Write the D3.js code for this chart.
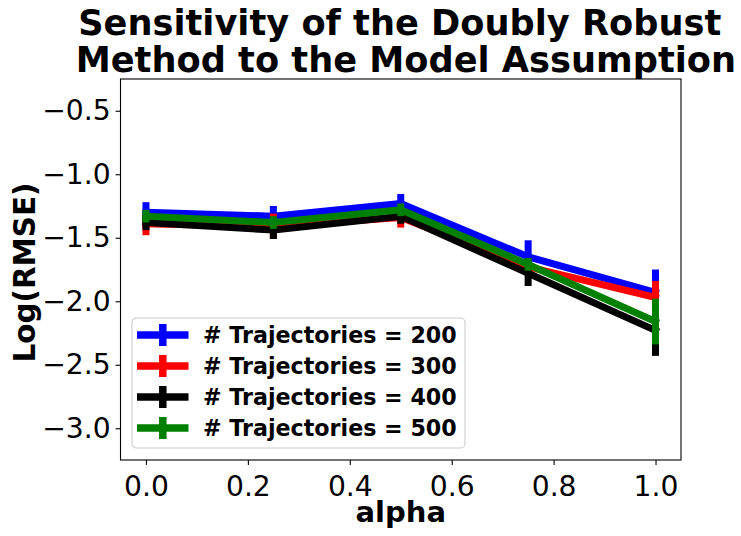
<!DOCTYPE html>
<html>
<head>
<meta charset="utf-8">
<script src="https://cdn.jsdelivr.net/npm/d3@7"></script>
<style>
    body { margin: 0; background: #fff; }
    svg { display: block; }
</style>
</head>
<body>
<div id="chart"></div>
<script>

// values
const alphas = [0, 0.25, 0.5, 0.75, 1.0];

const rmse200 = [-1.30, -1.33, -1.23, -1.65, -1.93];
const err200  = [0.08, 0.08, 0.075, 0.13, 0.18];

const rmse300 = [-1.39, -1.41, -1.34, -1.73, -1.97];
const err300  = [0.09, 0.10, 0.08, 0.05, 0.13];

const rmse400 = [-1.38, -1.44, -1.33, -1.78, -2.23];
const err400  = [0.06, 0.07, 0.06, 0.10, 0.20];

const rmse500 = [-1.33, -1.38, -1.28, -1.71, -2.16];
const err500  = [0.05, 0.05, 0.05, 0.05, 0.18];

const seriesLabels = ['# Trajectories = 200', '# Trajectories = 300', '# Trajectories = 400', '# Trajectories = 500'];
const seriesColors = ['#0000ff', '#ff0000', '#000000', '#008000'];

const xTicks = [0, 0.2, 0.4, 0.6, 0.8, 1.0];
const yTicks = [-3.0, -2.5, -2.0, -1.5, -1.0, -0.5];

const titleLines = ['Sensitivity of the Doubly Robust', '\u00a0Method to the Model Assumption'];


class ErrorLineVis {

    constructor(parentElement){
        this.parentElement = parentElement;
        this.series = [
            {means: rmse200, errs: err200},
            {means: rmse300, errs: err300},
            {means: rmse400, errs: err400},
            {means: rmse500, errs: err500}
        ];
        this.series.forEach((s, i) => {
            s.label = seriesLabels[i];
            s.color = seriesColors[i];
            s.points = alphas.map((a, j) => ({x: a, y: s.means[j], e: s.errs[j]}));
        });

        this.initVis()
    }

    initVis(){
        let vis = this;

        vis.width = 741
        vis.height = 536
        vis.margin = {top: 79, right: 60, bottom: 76, left: 120.5};
        vis.innerW = vis.width - vis.margin.left - vis.margin.right;
        vis.innerH = vis.height - vis.margin.top - vis.margin.bottom;

        vis.root = d3.select("#" + vis.parentElement).append("svg")
            .attr("width", vis.width)
            .attr("height", vis.height)
            .style("font-family", "'DejaVu Sans', sans-serif");

        vis.svg = vis.root.append('g')
            .attr('transform', `translate (${vis.margin.left}, ${vis.margin.top})`);

        vis.x = d3.scaleLinear().domain([-0.05, 1.05]).range([0, vis.innerW]);
        vis.y = d3.scaleLinear().domain([-3.25, -0.25]).range([vis.innerH, 0]);

        // axes
        let xAxis = vis.svg.append('g')
            .attr('transform', `translate(0, ${vis.innerH})`)
            .call(d3.axisBottom(vis.x).tickValues(xTicks).tickFormat(d3.format('.1f')).tickSize(4.9).tickPadding(4.9));
        xAxis.selectAll('text').attr('dy', '0.92em');

        let yAxis = vis.svg.append('g')
            .call(d3.axisLeft(vis.y).tickValues(yTicks).tickFormat(d3.format('.1f')).tickSize(4.9).tickPadding(4.9));

        [xAxis, yAxis].forEach(ax => {
            ax.attr('font-family', null).attr('font-size', null);
            ax.select('.domain').remove();
            ax.selectAll('line').attr('stroke', '#000').attr('stroke-width', 1.1);
            ax.selectAll('text')
                .style('font-family', "'DejaVu Sans', sans-serif")
                .style('font-size', '28.2px')
                .attr('fill', '#000');
        });

        // error bars + lines
        const line = d3.line()
            .x(d => vis.x(d.x))
            .y(d => vis.y(d.y))

        vis.series.forEach(s => {
            vis.svg.append('path')
                .datum(s.points)
                .attr('d', line)
                .attr('fill', 'none')
                .attr('stroke', s.color)
                .attr('stroke-width', 7)
                .attr('stroke-linejoin', 'round')
                .attr('stroke-linecap', 'square');

            vis.svg.selectAll(null)
                .data(s.points)
                .enter()
                .append('line')
                .attr('x1', d => vis.x(d.x))
                .attr('x2', d => vis.x(d.x))
                .attr('y1', d => vis.y(d.y - d.e))
                .attr('y2', d => vis.y(d.y + d.e))
                .attr('stroke', s.color)
                .attr('stroke-width', 7);
        });

        // frame
        vis.svg.append('rect')
            .attr('width', vis.innerW)
            .attr('height', vis.innerH)
            .attr('fill', 'none')
            .attr('stroke', '#000')
            .attr('stroke-width', 1.1);

        // legend
        let legend = vis.svg.append('g')
            .attr('transform', `translate(${11.5}, ${239})`);

        legend.append('rect')
            .attr('width', 333)
            .attr('height', 130)
            .attr('rx', 4.4)
            .attr('fill', '#fff')
            .attr('fill-opacity', 0.8)
            .attr('stroke', '#cccccc')
            .attr('stroke-width', 1.1);

        let rows = legend.selectAll('.legend-row')
            .data(vis.series)
            .enter()
            .append('g')
            .attr('class', 'legend-row')
            .attr('transform', (d, i) => `translate(0, ${17 + i * 31})`);

        rows.append('line')
            .attr('x1', 5).attr('x2', 56.5)
            .attr('y1', 0).attr('y2', 0)
            .attr('stroke', d => d.color)
            .attr('stroke-width', 7.5);

        rows.append('line')
            .attr('x1', 30.8).attr('x2', 30.8)
            .attr('y1', -11).attr('y2', 11)
            .attr('stroke', d => d.color)
            .attr('stroke-width', 7.5);

        rows.append('text')
            .attr('x', 71)
            .attr('y', 8)
            .style('font-size', '22.2px')
            .style('font-weight', 'bold')
            .attr('fill', '#000')
            .text(d => d.label);

        // axis labels
        vis.root.append('text')
            .attr('x', vis.margin.left + vis.innerW / 2)
            .attr('y', 522)
            .attr('text-anchor', 'middle')
            .style('font-size', '29px')
            .style('font-weight', 'bold')
            .text('alpha');

        vis.root.append('text')
            .attr('transform', `translate(35, ${vis.margin.top + vis.innerH / 2 + 3}) rotate(-90)`)
            .attr('text-anchor', 'middle')
            .style('font-size', '29.4px')
            .style('font-weight', 'bold')
            .text('Log(RMSE)');

        // title
        vis.root.selectAll('.title-line')
            .data(titleLines)
            .enter()
            .append('text')
            .attr('class', 'title-line')
            .attr('x', vis.margin.left + vis.innerW / 2 - 1)
            .attr('y', (d, i) => 35 + i * 37)
            .attr('text-anchor', 'middle')
            .style('font-size', '35.2px')
            .style('font-weight', 'bold')
            .text(d => d);
    }
}

new ErrorLineVis('chart');
</script>
</body>
</html>
